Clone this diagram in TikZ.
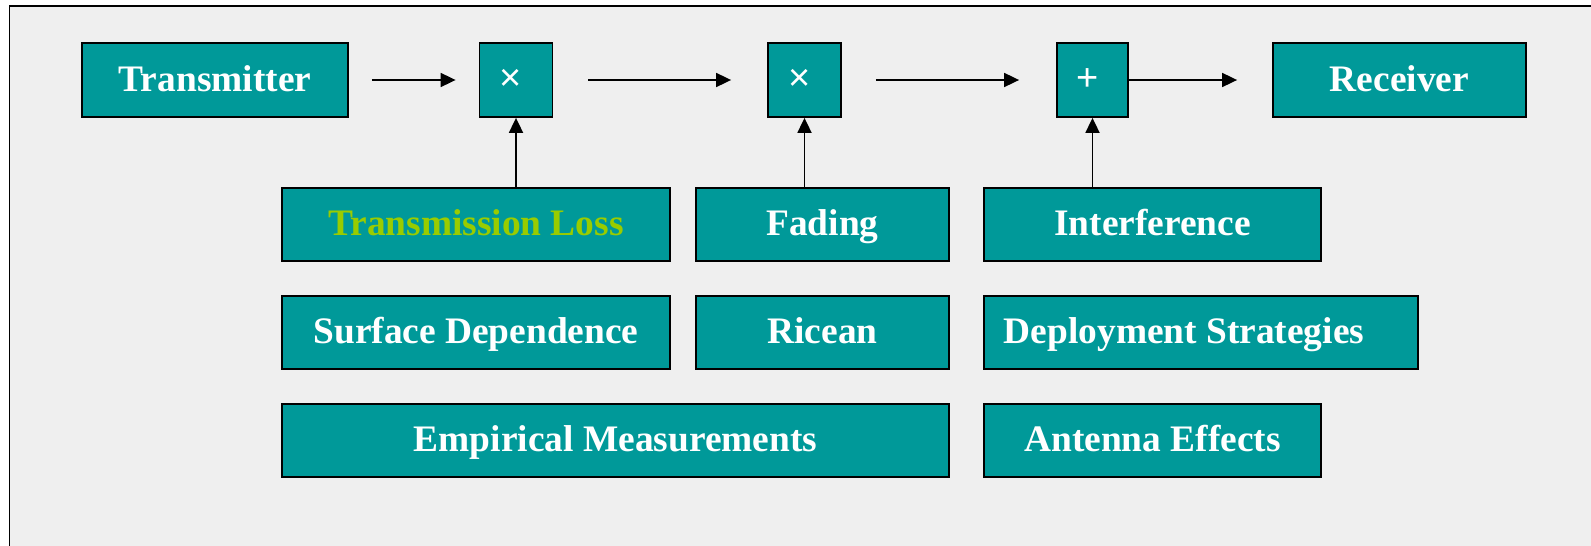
\documentclass[tikz,border=0pt]{standalone}
\usepackage{fontspec}
\setmainfont{Liberation Serif}
\newfontfamily\opfont{Liberation Sans}
\usetikzlibrary{arrows.meta}
\definecolor{tealbox}{HTML}{009999}
\definecolor{bgc}{HTML}{EFEFEF}
\definecolor{limetext}{HTML}{99CC00}
\begin{document}
\begin{tikzpicture}[x=0.5pt,y=-0.5pt,
  blk/.style={draw=black, line width=0.9pt, fill=tealbox, text=white,
    font=\bfseries\fontsize{18.7pt}{22pt}\selectfont, inner sep=0pt,
    text height=12.3pt, text depth=1pt},
  opbox/.style={draw=black, line width=0.9pt, fill=tealbox, text=white,
    font=\opfont\fontsize{19pt}{22pt}\selectfont, inner sep=0pt,
    minimum height=37pt},
  arr/.style={-{Triangle[length=7.5pt,width=7pt]}, line width=0.9pt}]
\useasboundingbox (0,0) rectangle (1591,546);
\fill[white] (0,0) rectangle (1591,546);
\fill[bgc] (9.5,6) rectangle (1591,546);
\draw[line width=0.9pt] (9.5,546) -- (9.5,6) -- (1591,6);

% top row
\node[blk, minimum width=133pt, minimum height=37pt] (tx) at (215,80) {Transmitter};
\node[opbox, minimum width=36.5pt] (m1) at (516,80) {\hspace*{-5pt}×};
\node[opbox, minimum width=36.5pt] (m2) at (804.5,80) {\hspace*{-5pt}×};
\node[opbox, minimum width=35.5pt] (add) at (1092.5,80) {\hspace*{-5pt}+};
\node[blk, minimum width=126.5pt, minimum height=37pt] (rx) at (1399.5,80) {Receiver};

% second row
\node[blk, minimum width=194pt, minimum height=36.5pt, text=limetext] (tl) at (476,224.5) {Transmission Loss};
\node[blk, minimum width=126.5pt, minimum height=36.5pt] (fad) at (822.5,224.5) {Fading};
\node[blk, minimum width=168.5pt, minimum height=36.5pt] (intf) at (1152.5,224.5) {Interference};

% third row
\node[blk, minimum width=194pt, minimum height=36.5pt] (sd) at (476,332.5) {Surface Dependence};
\node[blk, minimum width=126.5pt, minimum height=36.5pt] (ric) at (822.5,332.5) {Ricean};
\node[blk, minimum width=217pt, minimum height=36.5pt] (dep) at (1201,332.5) {\hspace*{-17pt}Deployment Strategies};

% fourth row
\node[blk, minimum width=333.5pt, minimum height=36.5pt] (emp) at (615.5,440.5) {Empirical Measurements};
\node[blk, minimum width=168.5pt, minimum height=36.5pt] (ant) at (1152.5,440.5) {Antenna Effects};

% horizontal arrows
\draw[arr, shorten <=11.5pt, shorten >=11.5pt] (tx) -- (m1);
\draw[arr, shorten <=17.5pt, shorten >=18pt] (m1) -- (m2);
\draw[arr, shorten <=17pt, shorten >=18.5pt] (m2) -- (add);
\draw[arr, shorten >=17.5pt] (add) -- (rx);

% vertical arrows
\draw[arr] (m1.south |- tl.north) -- (m1.south);
\draw[arr] (m2.south |- fad.north) -- (m2.south);
\draw[arr] (add.south |- intf.north) -- (add.south);
\end{tikzpicture}
\end{document}
